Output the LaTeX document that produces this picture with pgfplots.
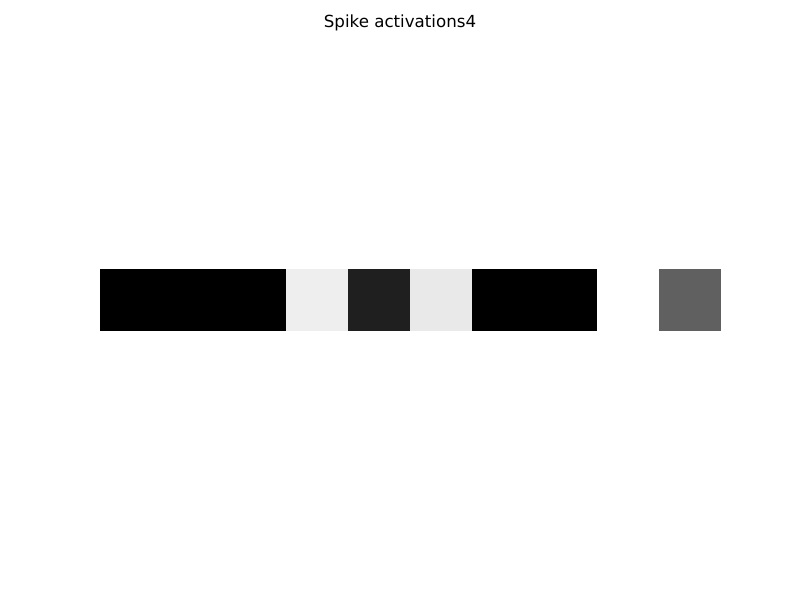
\documentclass[border=0pt]{standalone}
\usepackage{pgfplots}
\pgfplotsset{compat=1.18}
\usepackage{fontspec}
\setmainfont{DejaVu Sans}

\begin{document}
\begin{tikzpicture}
\useasboundingbox (0,0) rectangle (576pt,432pt);
\node[anchor=base] at (288pt,412pt) {\fontsize{12}{14}\selectfont Spike activations4};
\begin{axis}[
    at={(72pt,193.7pt)}, anchor=south west,
    scale only axis,
    width=447.1pt, height=44.7pt,
    hide axis,
    xmin=-0.5, xmax=9.5, ymin=-0.5, ymax=0.5,
    colormap={gray}{gray(0cm)=(0); gray(1cm)=(1)},
    point meta min=0, point meta max=1,
]
% one cell per neuron, grey level = value
\addplot[patch, patch type=rectangle, shader=flat, point meta=explicit] coordinates {
(-0.5,-0.5)[0] (0.5,-0.5)[0] (0.5,0.5)[0] (-0.5,0.5)[0]
(0.5,-0.5)[0] (1.5,-0.5)[0] (1.5,0.5)[0] (0.5,0.5)[0]
(1.5,-0.5)[0] (2.5,-0.5)[0] (2.5,0.5)[0] (1.5,0.5)[0]
(2.5,-0.5)[0.925] (3.5,-0.5)[0.925] (3.5,0.5)[0.925] (2.5,0.5)[0.925]
(3.5,-0.5)[0.122] (4.5,-0.5)[0.122] (4.5,0.5)[0.122] (3.5,0.5)[0.122]
(4.5,-0.5)[0.906] (5.5,-0.5)[0.906] (5.5,0.5)[0.906] (4.5,0.5)[0.906]
(5.5,-0.5)[0] (6.5,-0.5)[0] (6.5,0.5)[0] (5.5,0.5)[0]
(6.5,-0.5)[0] (7.5,-0.5)[0] (7.5,0.5)[0] (6.5,0.5)[0]
(7.5,-0.5)[1] (8.5,-0.5)[1] (8.5,0.5)[1] (7.5,0.5)[1]
(8.5,-0.5)[0.373] (9.5,-0.5)[0.373] (9.5,0.5)[0.373] (8.5,0.5)[0.373]
};
\end{axis}
\end{tikzpicture}
\end{document}
